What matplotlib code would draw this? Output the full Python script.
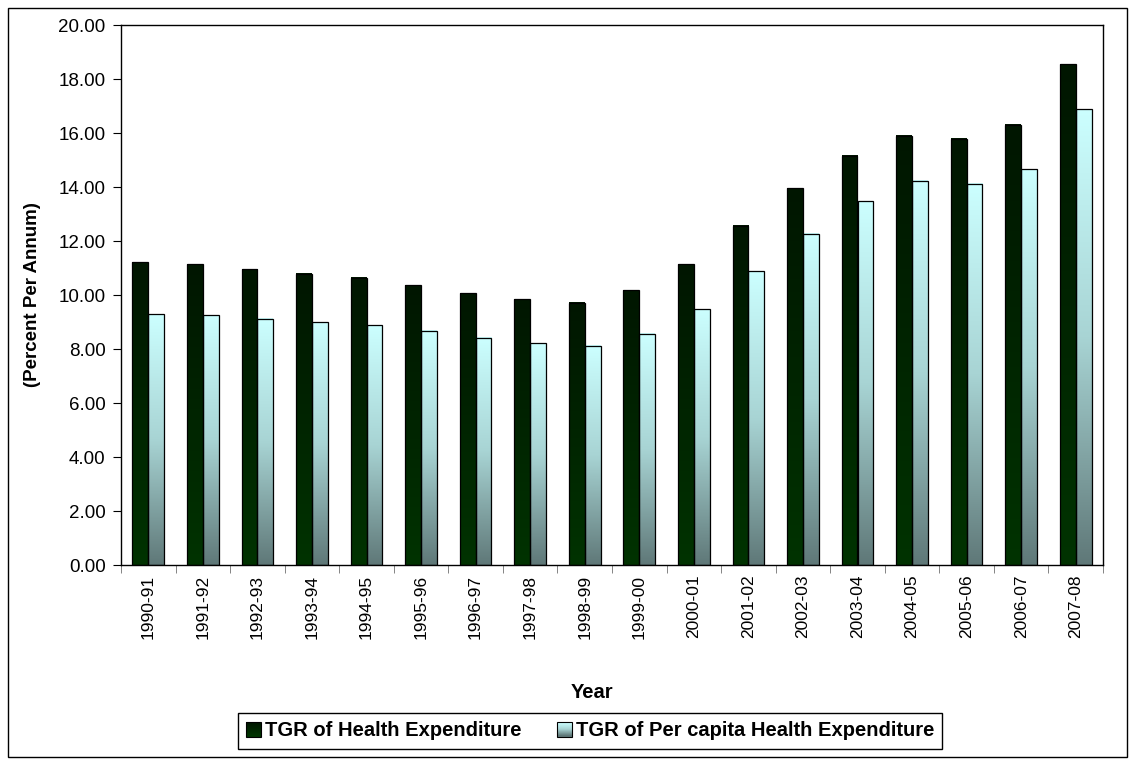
import numpy as np
import matplotlib
matplotlib.use("Agg")
import matplotlib.pyplot as plt
from matplotlib.colors import LinearSegmentedColormap
from matplotlib.patches import Rectangle, Patch
from matplotlib.legend_handler import HandlerBase

plt.rcParams["font.family"] = ["Liberation Sans", "DejaVu Sans"]

years = ["1990-91", "1991-92", "1992-93", "1993-94", "1994-95", "1995-96",
         "1996-97", "1997-98", "1998-99", "1999-00", "2000-01", "2001-02",
         "2002-03", "2003-04", "2004-05", "2005-06", "2006-07", "2007-08"]
tgr_health = [11.21, 11.14, 10.96, 10.79, 10.63, 10.37, 10.07, 9.84, 9.72,
              10.17, 11.14, 12.57, 13.95, 15.15, 15.89, 15.78, 16.31, 18.54]
tgr_percap = [9.28, 9.25, 9.12, 9.00, 8.88, 8.67, 8.41, 8.21, 8.12,
              8.57, 9.47, 10.88, 12.27, 13.48, 14.23, 14.12, 14.65, 16.88]

# bottom -> top colour ramps for the bar fills
CM_DARK = LinearSegmentedColormap.from_list("dark", ["#003300", "#001600"])
CM_LIGHT = LinearSegmentedColormap.from_list("light", ["#5f7878", "#a8d4d4", "#ccffff"])
RAMP = np.linspace(0, 1, 256).reshape(-1, 1)


class GradientHandler(HandlerBase):
    def __init__(self, cmap, n=14):
        super().__init__()
        self.cmap, self.n = cmap, n

    def create_artists(self, legend, orig_handle, xd, yd, w, h, fontsize, trans):
        arts = []
        for k in range(self.n):
            arts.append(Rectangle((-xd, -yd + h * k / self.n), w, h / self.n + 0.3,
                                  facecolor=self.cmap(k / (self.n - 1)),
                                  edgecolor="none", transform=trans))
        arts.append(Rectangle((-xd, -yd), w, h, fill=False, edgecolor="black",
                              lw=0.8, transform=trans))
        return arts


def fill_gradient(ax, bars, cmap):
    for b in bars:
        x0, w, h = b.get_x(), b.get_width(), b.get_height()
        ax.imshow(RAMP, cmap=cmap, origin="lower", aspect="auto",
                  extent=(x0, x0 + w, 0, h), zorder=2, interpolation="bilinear")


W, H = 1135, 762
fig = plt.figure(figsize=(W / 100, H / 100), dpi=100)
ax = fig.add_axes([121 / W, 1 - 565 / H, (1103 - 121) / W, 540 / H])

x = np.arange(len(years))
bw = 0.29
b1 = ax.bar(x - bw, tgr_health, width=bw, align="edge", facecolor="none",
            edgecolor="black", lw=0.9, zorder=3)
b2 = ax.bar(x, tgr_percap, width=bw, align="edge", facecolor="none",
            edgecolor="black", lw=0.9, zorder=3)
fill_gradient(ax, b1, CM_DARK)
fill_gradient(ax, b2, CM_LIGHT)

ax.set_xlim(-0.5, len(years) - 0.5)
ax.set_ylim(0, 20)
yt = np.arange(0, 20.01, 2)
ax.set_yticks(yt)
ax.set_yticklabels([f"{v:.2f}" for v in yt], fontsize=13.5)
ax.set_xticks(x)
ax.set_xticklabels(years, rotation=90, fontsize=12.5)
ax.set_xticks(np.arange(-0.5, len(years)), minor=True)
ax.tick_params(axis="x", which="major", length=0, pad=7)
ax.tick_params(axis="x", which="minor", length=6, color="#707070", direction="out")
ax.tick_params(axis="y", length=6, direction="out", pad=5)
for sp in ax.spines.values():
    sp.set_linewidth(1.0)

fig.text(33 / W, 1 - 295 / H, "(Percent Per Annum)", rotation=90, fontsize=13.5,
         fontweight="bold", ha="center", va="center")
fig.text(592 / W, 1 - 692 / H, "Year", fontsize=14.5, fontweight="bold",
         ha="center", va="center")

h_dark, h_light = Patch(), Patch()
leg = fig.legend([h_dark, h_light],
                 ["TGR of Health Expenditure", "TGR of Per capita Health Expenditure"],
                 handler_map={h_dark: GradientHandler(CM_DARK),
                              h_light: GradientHandler(CM_LIGHT)},
                 loc="center", bbox_to_anchor=(590 / W, 1 - 731 / H), ncol=2,
                 fancybox=False, edgecolor="black", framealpha=1,
                 prop={"size": 14.5, "weight": "bold"},
                 handlelength=0.75, handleheight=0.7, handletextpad=0.2,
                 columnspacing=1.75, borderpad=0.4, borderaxespad=0)
leg.get_frame().set_linewidth(1.0)

fig.add_artist(Rectangle((8 / W, 5 / H), (1127 - 8) / W, (757 - 8) / H,
                         transform=fig.transFigure, fill=False,
                         edgecolor="black", lw=1.0))

fig.savefig("out.png", dpi=100, facecolor="white")
